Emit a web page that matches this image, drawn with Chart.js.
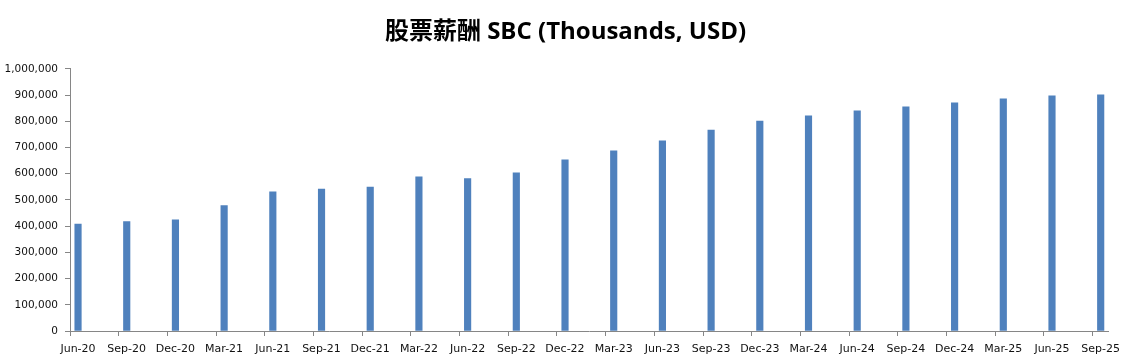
<!DOCTYPE html>
<html>
<head>
<meta charset="utf-8">
<script src="https://cdn.jsdelivr.net/npm/chart.js@4"></script>
<style>
  html, body { margin: 0; padding: 0; background: #ffffff; }
  #wrap { width: 1127px; height: 361px; position: relative; }
</style>
</head>
<body>
<div id="wrap"><canvas id="c"></canvas></div>
<script>
const titleText = '股票薪酬 SBC (Thousands, USD)';
const categories = ['Jun-20','Sep-20','Dec-20','Mar-21','Jun-21','Sep-21','Dec-21','Mar-22','Jun-22','Sep-22','Dec-22','Mar-23','Jun-23','Sep-23','Dec-23','Mar-24','Jun-24','Sep-24','Dec-24','Mar-25','Jun-25','Sep-25'];
const sbcValues = [408000, 417000, 424000, 478000, 531000, 541000, 549000, 588000, 581000, 603000, 653000, 687000, 725000, 766000, 801000, 821000, 840000, 855000, 870000, 885000, 897000, 901000];
const yTickValues = [0, 100000, 200000, 300000, 400000, 500000, 600000, 700000, 800000, 900000, 1000000];

const axisGray = '#868686';
const yTickFont = { family: "'DejaVu Sans', sans-serif", size: 10.5 };
const xTickFont = { family: "'DejaVu Sans', sans-serif", size: 11 };
const tickShift = 0.165; // tick marks sit slightly left of each bar (date-axis look)

// centre the title across the whole canvas, not only the padded layout box
const fullWidthTitle = {
  id: 'fullWidthTitle',
  afterLayout(chart) {
    if (chart.titleBlock) {
      chart.titleBlock.left = 2;
      chart.titleBlock.right = chart.width + 2;
    }
  }
};

new Chart(document.getElementById('c'), {
  type: 'bar',
  data: {
    datasets: [{
      label: 'SBC',
      data: sbcValues.map((v, i) => ({ x: i, y: v })),
      backgroundColor: '#4F81BD',
      borderWidth: 0,
      barThickness: 6.5
    }]
  },
  plugins: [fullWidthTitle],
  options: {
    responsive: true,
    maintainAspectRatio: false,
    devicePixelRatio: 1,
    animation: false,
    layout: { padding: { left: 0, right: 19, top: 0, bottom: 0 } },
    plugins: {
      legend: { display: false },
      tooltip: { enabled: false },
      title: {
        display: true,
        text: titleText,
        color: '#000000',
        font: { family: "'Open Sans', 'Noto Sans CJK SC', sans-serif", size: 24, weight: 'bold', lineHeight: 1.2 },
        padding: { top: 18, bottom: 22 }
      }
    },
    scales: {
      x: {
        type: 'linear',
        min: -tickShift,
        max: categories.length - 1 + 0.15,
        offset: false,
        afterBuildTicks: (scale) => {
          scale.ticks = categories.map((c, i) => ({ value: i - tickShift }));
        },
        afterFit: (scale) => { scale.height = 30; },
        ticks: {
          callback: (val, idx) => categories[idx],
          autoSkip: false,
          maxRotation: 0,
          minRotation: 0,
          labelOffset: 8,
          padding: 7,
          color: '#111111',
          font: xTickFont
        },
        grid: {
          display: true,
          offset: false,
          drawOnChartArea: false,
          drawTicks: true,
          tickLength: 5,
          color: axisGray
        },
        border: { display: true, color: axisGray, width: 1 }
      },
      y: {
        min: 0,
        max: 1000000,
        afterBuildTicks: (scale) => {
          scale.ticks = yTickValues.map(v => ({ value: v }));
        },
        afterFit: (scale) => { scale.width = 70; },
        ticks: {
          callback: (v) => Number(v).toLocaleString('en-US'),
          padding: 7,
          color: '#111111',
          font: yTickFont
        },
        grid: {
          display: true,
          drawOnChartArea: false,
          drawTicks: true,
          tickLength: 5,
          color: axisGray
        },
        border: { display: true, color: axisGray, width: 1 }
      }
    }
  }
});
</script>
</body>
</html>
